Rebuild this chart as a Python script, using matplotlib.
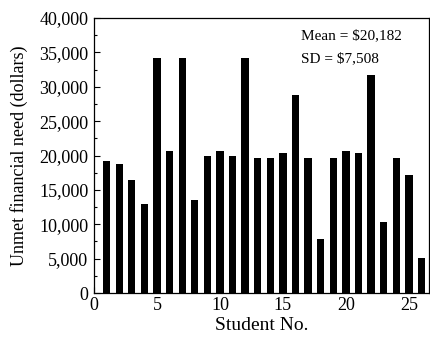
import matplotlib
matplotlib.use("Agg")
import matplotlib.pyplot as plt
from matplotlib.ticker import MultipleLocator, FuncFormatter

students = list(range(1, 27))
need = [19200, 18800, 16500, 12900, 34200, 20650, 34200, 13600, 19900, 20600,
        19900, 34200, 19700, 19700, 20400, 28800, 19700, 7900, 19700, 20600,
        20350, 31650, 10400, 19700, 17200, 5050]
stats_text = ["Mean = $20,182", "SD = $7,508"]

plt.rcParams['font.family'] = ['Liberation Serif', 'DejaVu Serif']
plt.rcParams['mathtext.default'] = 'regular'

fig = plt.figure(figsize=(4.3, 3.41), dpi=100)
ax = fig.add_axes([94/430, 1-293/341, (429-94)/430, (293-18)/341])
ax.bar(students, need, width=0.58, color='black')
ax.set_xlim(0, 26.6)
ax.set_ylim(0, 40000)
ax.xaxis.set_major_locator(MultipleLocator(5))
ax.yaxis.set_major_locator(MultipleLocator(5000))
ax.yaxis.set_minor_locator(MultipleLocator(2500))
ax.yaxis.set_major_formatter(FuncFormatter(lambda v, p: f"{int(v):,}"))
ax.tick_params(axis='both', direction='in', labelsize=13, length=4, width=0.8, pad=4)
ax.tick_params(axis='x', pad=3)
ax.tick_params(axis='y', which='minor', direction='in', length=2.5, width=0.8)
ax.set_xlabel("Student No.", fontsize=14, labelpad=2)
ax.set_ylabel("Unmet financial need (dollars)", fontsize=13, labelpad=8)
ax.text(0.617, 0.96, stats_text[0].replace('$', r'\$'), transform=ax.transAxes,
        fontsize=11, va='top', ha='left')
ax.text(0.617, 0.875, stats_text[1].replace('$', r'\$'), transform=ax.transAxes,
        fontsize=11, va='top', ha='left')
for s in ax.spines.values():
    s.set_linewidth(0.9)
fig.savefig("out.png", dpi=100)
